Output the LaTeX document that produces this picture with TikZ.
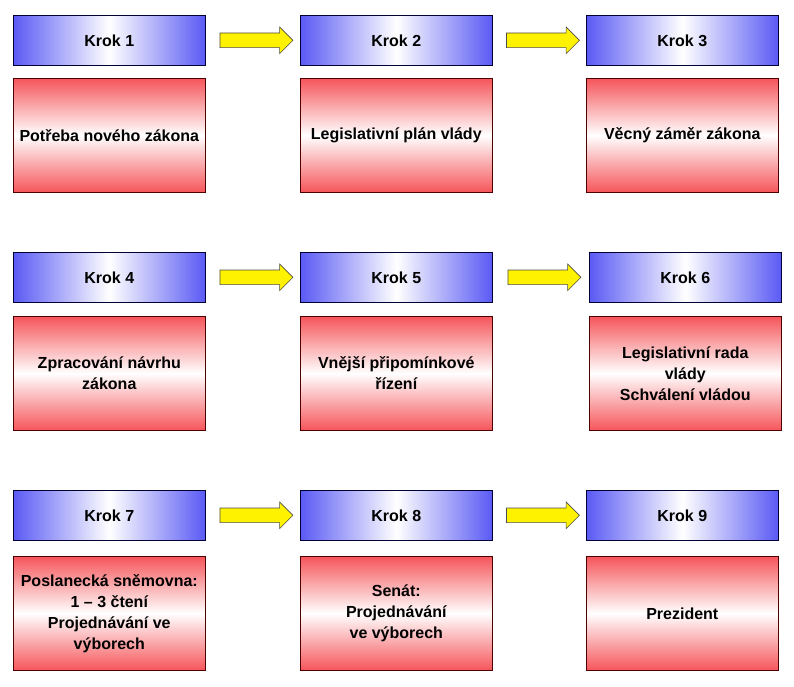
\documentclass[tikz,border=0pt]{standalone}
\usepackage{fontspec}
\setmainfont{Liberation Sans}
\usetikzlibrary{shapes.arrows,calc}
\definecolor{hb}{RGB}{90,90,245}
\definecolor{rb}{RGB}{245,85,90}
\begin{document}
\begin{tikzpicture}[x=1pt,y=-1pt,
 hdr/.style={draw=black!80!blue,line width=0.6pt,minimum width=192pt,minimum height=50pt,anchor=north west,
   left color=hb,right color=hb,middle color=white,font=\bfseries\fontsize{16}{18}\selectfont},
 body/.style={draw=black!70!red,line width=0.6pt,minimum width=192pt,minimum height=114pt,anchor=north west,inner xsep=1pt,
   top color=rb,bottom color=rb,middle color=white,align=center,font=\bfseries\fontsize{16}{21}\selectfont},
 arr/.style={single arrow,draw=black!70,fill=yellow,minimum height=73pt,minimum width=26pt,single arrow head extend=6pt,
   inner xsep=0pt,inner ysep=7pt,line width=0.6pt}]
\useasboundingbox (0,0) rectangle (794,687);
\foreach \n/\x/\y in {1/13/15,2/300/15,3/586/15,4/13/252,5/300/252,6/589/252,7/13/490,8/300/490,9/586/490}{
  \node[hdr] (h\n) at (\x,\y) {Krok \n};
}
\node[body] (b1) at (13,78) {Potřeba nového zákona};
\node[body] (b2) at (300,78) {Legislativní plán vlády};
\node[body] (b3) at (586,78) {Věcný záměr zákona};
\node[body] (b4) at (13,316) {Zpracování návrhu\\zákona};
\node[body] (b5) at (300,316) {Vnější připomínkové\\řízení};
\node[body] (b6) at (589,316) {Legislativní rada\\vlády\\Schválení vládou};
\node[body] (b7) at (13,556) {Poslanecká sněmovna:\\1 – 3 čtení\\Projednávání ve\\výborech};
\node[body] (b8) at (300,556) {Senát:\\Projednávání\\ve výborech};
\node[body] (b9) at (586,556) {Prezident};
\foreach \a/\b in {1/2,2/3,4/5,5/6,7/8,8/9}{
  \node[arr] (a\a\b) at ($(h\a.east)!0.5!(h\b.west)$) {};
}
\end{tikzpicture}
\end{document}
